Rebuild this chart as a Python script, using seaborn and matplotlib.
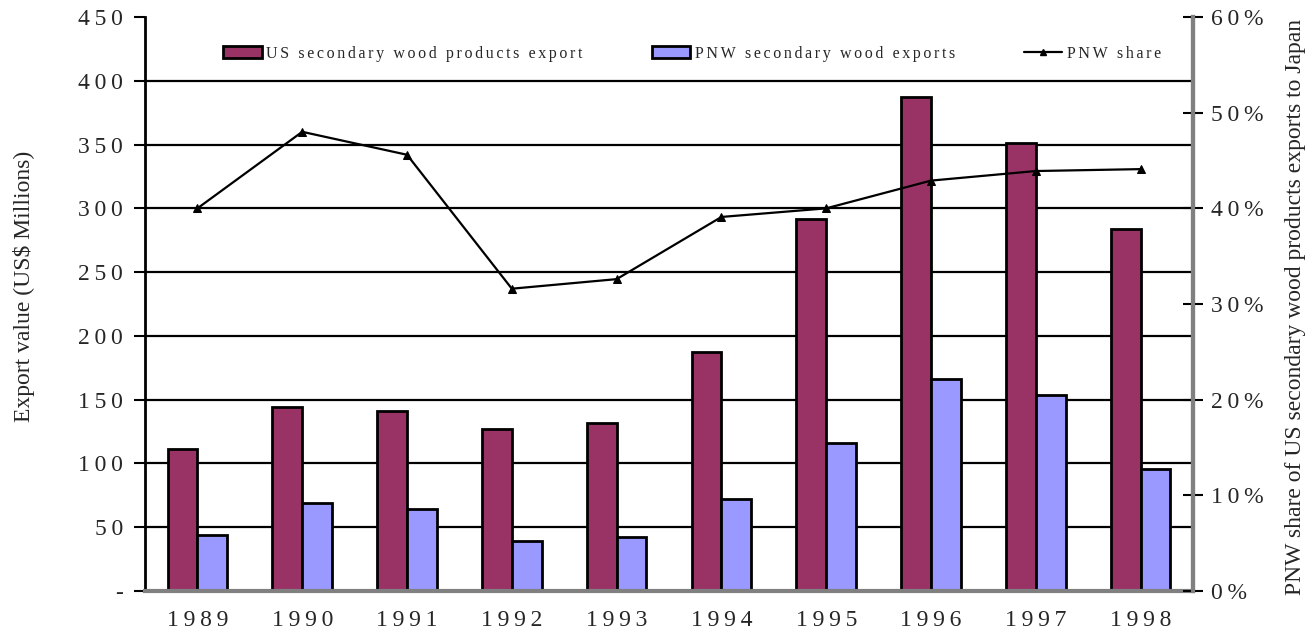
import numpy as np
import pandas as pd
import matplotlib
matplotlib.use("Agg")
import matplotlib.pyplot as plt
from matplotlib.patches import Patch
from matplotlib.lines import Line2D
import seaborn as sns

# data
years = ["1989", "1990", "1991", "1992", "1993", "1994", "1995", "1996", "1997", "1998"]
us_export = [111, 144, 141, 127, 132, 187, 292, 387, 351, 284]
pnw_export = [44, 69, 64, 39, 42, 72, 116, 166, 154, 96]
pnw_share = [40.0, 48.0, 45.6, 31.6, 32.6, 39.1, 40.0, 42.9, 43.9, 44.1]

left_ticks = [0, 50, 100, 150, 200, 250, 300, 350, 400, 450]
right_ticks = [0, 10, 20, 30, 40, 50, 60]

series_names = ["US secondary wood products export", "PNW secondary wood exports"]
bar_colors = ["#993366", "#9999FF"]

sns.set_style("white")
plt.rcParams['font.family'] = ['Liberation Serif', 'DejaVu Serif']


def spread(s, sp="\u2009"):
    # letter spaced text like the original
    return sp.join(list(s))


df = pd.DataFrame({
    "year": years * 2,
    "value": us_export + pnw_export,
    "series": [series_names[0]] * len(years) + [series_names[1]] * len(years),
})

fig = plt.figure(figsize=(13.09, 6.37), dpi=100)
ax = fig.add_axes([0.1108, 0.0722, 0.8006, 0.9011])

# gridlines behind bars
for v in left_ticks[1:-1]:
    ax.axhline(v, color="black", lw=1.6, zorder=0)

sns.barplot(data=df, x="year", y="value", hue="series", palette=bar_colors,
            width=0.57, edgecolor="black", linewidth=2, saturation=1,
            ax=ax, legend=False, zorder=2)

ax.set_ylim(0, 450)
ax.set_xlim(-0.5, len(years) - 0.5)
ax.set_yticks(left_ticks)
ax.set_yticklabels(["-"] + [spread(str(t)) for t in left_ticks[1:]], fontsize=17)
ax.set_xticks(range(len(years)))
ax.set_xticklabels([spread(y) for y in years], fontsize=17)
ax.tick_params(axis="x", length=0, pad=14)
ax.tick_params(axis="y", length=8, width=1.5, color="black", pad=8, direction="out")
# category boundary ticks on the x axis
ax.set_xticks(np.arange(-0.5, len(years), 1.0), minor=True)
ax.tick_params(axis="x", which="minor", length=10, width=1.5, direction="inout", color="black")
ax.set_xlabel("")
ax.set_ylabel("Export value (US$ Millions)", fontsize=17)
ax.yaxis.set_label_coords(-0.105, 0.53)

ax.spines["top"].set_visible(False)
ax.spines["left"].set_color("black")
ax.spines["left"].set_linewidth(2)
ax.spines["bottom"].set_color("#808080")
ax.spines["bottom"].set_linewidth(3)
ax.spines["right"].set_color("#808080")
ax.spines["right"].set_linewidth(3)

ax2 = ax.twinx()
sns.lineplot(x=np.arange(len(years)), y=pnw_share, ax=ax2, color="black",
             lw=1.6, marker="^", markersize=6, markeredgecolor="black", zorder=5)
ax2.set_ylim(0, 60)
ax2.set_yticks(right_ticks)
ax2.set_yticklabels([spread(f"{t}%") for t in right_ticks], fontsize=17)
ax2.tick_params(axis="y", length=14, width=1.5, direction="inout", color="black", pad=6)
ax2.set_ylabel("PNW share of US secondary wood products exports to Japan",
               fontsize=17, rotation=90, va="center")
ax2.yaxis.set_label_coords(1.098, 0.495)
for s in ["top", "left", "bottom"]:
    ax2.spines[s].set_visible(False)
ax2.spines["right"].set_color("#808080")
ax2.spines["right"].set_linewidth(3)

handles = [
    Patch(facecolor=bar_colors[0], edgecolor="black", linewidth=2),
    Patch(facecolor=bar_colors[1], edgecolor="black", linewidth=2),
    Line2D([0], [0], color="black", lw=1.6, marker="^", markersize=5),
]
labels = [spread(series_names[0], "\u2006"), spread(series_names[1], "\u2006"),
          spread("PNW share", "\u2006")]
ax2.legend(handles, labels, loc="upper center", bbox_to_anchor=(0.522, 0.975), ncol=3,
           frameon=False, fontsize=11.5, handlelength=2.4, handleheight=0.8,
           columnspacing=4.3, handletextpad=0.3)

fig.savefig("out.png", dpi=100)
